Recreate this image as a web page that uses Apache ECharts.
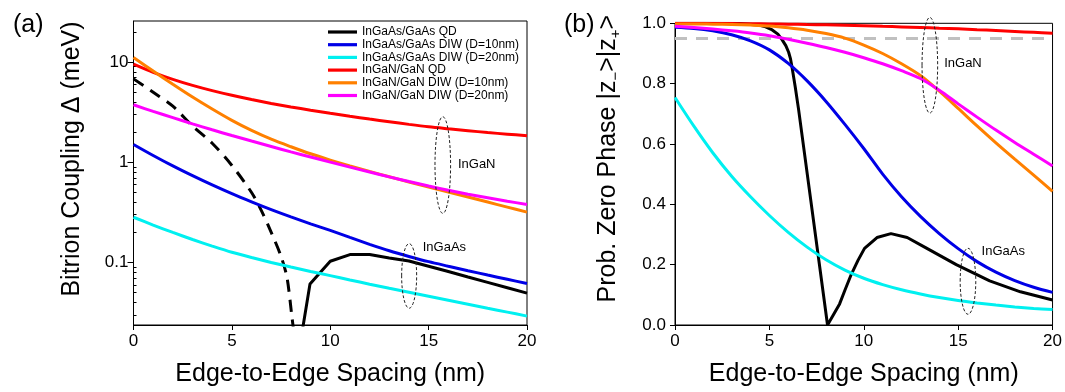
<!DOCTYPE html>
<html><head><meta charset="utf-8">
<script src="https://cdn.jsdelivr.net/npm/echarts@6/dist/echarts.min.js"></script>
<style>html,body{margin:0;padding:0;background:#fff}#c{width:1065px;height:392px}</style>
</head><body><div id="c"></div>
<script>
const FONT = '"Liberation Sans", Arial, sans-serif';
// ---------- data ----------
const nm = [0,1,2,3,4,5,6,7,8,9,10,11,12,13,14,15,16,17,18,19,20];
const xTicks = [0,5,10,15,20];
const leftYLabels = [0.1,1,10];
const leftYMinor = [0.03,0.04,0.05,0.06,0.07,0.08,0.09,0.2,0.3,0.4,0.5,0.6,0.7,0.8,0.9,2,3,4,5,6,7,8,9,20];
const names = ['InGaAs/GaAs QD','InGaAs/GaAs DIW (D=10nm)','InGaAs/GaAs DIW (D=20nm)','InGaN/GaN QD','InGaN/GaN DIW (D=10nm)','InGaN/GaN DIW (D=20nm)'];
const colors = ['#000000','#0000e6','#00f0f0','#ff0000','#ff8000','#ff00ff'];

// (a) bitrion coupling (meV)
const aQdInGaAsNm   = [8.6,8.97,10,11,12,13,14,15,16,17,18,19,20];
const aQdInGaAs     = [0.022,0.061,0.103,0.12,0.12,0.111,0.1035,0.0918,0.0813,0.0716,0.0634,0.056,0.0495];
const aQdInGaAsNegNm= [0,1,2,3,4,5,6,6.5,7,7.5,7.8,8.05,8.15];
const aQdInGaAsNeg  = [6.8,5.0,3.63,2.3,1.55,0.93,0.5,0.33,0.2,0.115,0.071,0.029,0.02];
const aDiw10InGaAs  = [1.507,1.17,0.92,0.735,0.594,0.486,0.403,0.337,0.285,0.243,0.209,0.178,0.152,0.131,0.115,0.102,0.0918,0.0828,0.075,0.068,0.0617];
const aDiw20InGaAs  = [0.283,0.2366,0.1995,0.1698,0.1459,0.1265,0.1122,0.1002,0.0902,0.0815,0.074,0.067,0.0608,0.0553,0.0505,0.0461,0.0421,0.0384,0.035,0.032,0.0292];
const aQdInGaN      = [9.55,7.91,6.73,5.86,5.19,4.66,4.23,3.87,3.57,3.31,3.08,2.88,2.70,2.54,2.39,2.26,2.16,2.07,1.98,1.91,1.84];
const aDiw10InGaN   = [11.12,8.15,6.01,4.48,3.40,2.62,2.08,1.70,1.43,1.216,1.052,0.92,0.811,0.718,0.637,0.566,0.505,0.45,0.401,0.357,0.318];
const aDiw20InGaN   = [3.75,3.22,2.79,2.42,2.11,1.85,1.63,1.44,1.27,1.13,1.005,0.895,0.8,0.716,0.643,0.579,0.526,0.481,0.443,0.409,0.38];

// (b) probability of zero phase
const bQdInGaAsNm   = [0,2,3.4,4.45,4.8,5.15,5.45,5.67,5.87,6.02,6.12,6.2,6.37,6.55,8.08,8.4,8.72,9.0,9.34,9.7,10.04,10.7,11.44,12.3,13.2,14.9,16.67,18.3,20];
const bQdInGaAs     = [1.0,1.0,0.999,0.994,0.988,0.978,0.964,0.946,0.926,0.904,0.882,0.854,0.789,0.713,0,0.035,0.07,0.115,0.168,0.215,0.254,0.29,0.303,0.29,0.259,0.2,0.146,0.11,0.083];
const bDiw10InGaAs  = [0.987,0.983,0.975,0.962,0.942,0.912,0.867,0.809,0.741,0.665,0.585,0.5,0.425,0.36,0.303,0.253,0.21,0.175,0.147,0.125,0.108];
const bDiw20InGaAs  = [0.754,0.659,0.571,0.493,0.425,0.363,0.307,0.258,0.216,0.182,0.155,0.134,0.117,0.103,0.091,0.081,0.073,0.066,0.06,0.055,0.051];
const bQdInGaN      = [1,1,0.9995,0.999,0.9985,0.998,0.997,0.996,0.995,0.9935,0.992,0.990,0.988,0.986,0.984,0.982,0.979,0.976,0.973,0.970,0.967];
const bDiw10InGaN   = [0.998,0.998,0.997,0.996,0.994,0.991,0.985,0.977,0.966,0.951,0.928,0.9,0.866,0.827,0.775,0.718,0.66,0.604,0.55,0.497,0.443];
const bDiw20InGaN   = [0.99,0.986,0.981,0.975,0.968,0.959,0.947,0.934,0.92,0.904,0.886,0.866,0.843,0.817,0.778,0.733,0.689,0.646,0.605,0.566,0.527];
const bRefNm = [0,20];
const bRef = [0.95,0.95];

// ---------- build ----------
const pair = (xs, ys) => xs.map((x,i)=>[x, ys[i]]);
function line(name, color, xs, ys, xi, yi, extra){
  return Object.assign({
    type:'line', name, xAxisIndex:xi, yAxisIndex:yi, data: pair(xs, ys),
    symbol:'none', smooth:0.3, animation:false,
    lineStyle:{color, width:3}, itemStyle:{color}, z:3
  }, extra||{});
}
const tickLabel = {fontSize:17, color:'#000', fontFamily:FONT};
const axisCommon = {
  axisLine:{show:true, onZero:false, lineStyle:{color:'#000', width:1}},
  axisTick:{show:true, inside:false, length:5, lineStyle:{color:'#000'}},
  axisLabel:Object.assign({margin:8}, tickLabel),
  splitLine:{show:false}
};
const xTitle = {name:'Edge-to-Edge Spacing (nm)', nameLocation:'middle', nameGap:37,
  nameTextStyle:{fontSize:25, color:'#000', fontFamily:FONT}};

const option = {
  animation:false,
  backgroundColor:'#fff',
  title:[
    {text:'(a)', left:8, top:8, textStyle:{fontSize:25, fontWeight:'normal', color:'#000', fontFamily:FONT}},
    {text:'(b)', left:559, top:8, textStyle:{fontSize:25, fontWeight:'normal', color:'#000', fontFamily:FONT}}
  ],
  legend:{
    orient:'vertical', left:328, top:26, padding:0, itemGap:0.7, itemWidth:29, itemHeight:14,
    icon:'path://M0,0L100,0L100,11L0,11Z',
    data:names, selectedMode:false,
    textStyle:{fontSize:12, color:'#000', fontFamily:FONT}
  },
  grid:[
    {left:133.5, top:21, width:393.5, height:311, show:true, borderColor:'#000', borderWidth:1, containLabel:false},
    {left:675, top:23.3, width:382, height:308.4, show:true, borderColor:'#000', borderWidth:1, containLabel:false}
  ],
  xAxis:[
    Object.assign({gridIndex:0, type:'value', min:0, max:20, interval:5}, axisCommon, xTitle),
    Object.assign({gridIndex:1, type:'value', min:0, max:20, interval:5}, axisCommon, xTitle)
  ],
  yAxis:[
    Object.assign({}, axisCommon, {gridIndex:0, type:'log', logBase:10, min:0.0238, max:25.7,
      axisTick:{show:true, length:6, lineStyle:{color:'#000'}, customValues:leftYLabels},
      axisLabel:Object.assign({margin:5, customValues:leftYLabels,
        formatter:v => (v < 1 ? String(+v.toFixed(3)) : String(Math.round(v)))}, tickLabel),
      name:'Bitrion Coupling \u0394 (meV)', nameLocation:'middle', nameGap:49,
      nameTextStyle:{fontSize:25, color:'#000', fontFamily:FONT, padding:[0,0,0,28]}}),
    {gridIndex:0, type:'log', logBase:10, min:0.0238, max:25.7,
      axisLine:{show:false}, axisLabel:{show:false}, splitLine:{show:false},
      axisTick:{show:true, length:3, lineStyle:{color:'#000'}, customValues:leftYMinor}},
    Object.assign({}, axisCommon, {gridIndex:1, type:'value', min:0, max:1, interval:0.2,
      axisLabel:Object.assign({margin:9, formatter:v => v.toFixed(1)}, tickLabel),
      name:'{a|Prob. Zero Phase |z}{s|\u2212}{a|>|z}{s|+}{a|>}', nameLocation:'middle', nameGap:52,
      nameTextStyle:{color:'#000', fontFamily:FONT, padding:[0,0,0,31],
        rich:{a:{fontSize:25, lineHeight:30, fontFamily:FONT, color:'#000'},
              s:{fontSize:15, lineHeight:30, verticalAlign:'bottom', fontFamily:FONT, color:'#000'}}}})
  ],
  series:[
    line(names[0], colors[0], aQdInGaAsNm, aQdInGaAs, 0, 0, {smooth:false}),
    line(names[0], colors[0], aQdInGaAsNegNm, aQdInGaAsNeg, 0, 0, {lineStyle:{color:colors[0], width:3, type:[12,8]}}),
    line(names[1], colors[1], nm, aDiw10InGaAs, 0, 0),
    line(names[2], colors[2], nm, aDiw20InGaAs, 0, 0),
    line(names[3], colors[3], nm, aQdInGaN, 0, 0),
    line(names[4], colors[4], nm, aDiw10InGaN, 0, 0),
    line(names[5], colors[5], nm, aDiw20InGaN, 0, 0),
    line('ref', '#c0c0c0', bRefNm, bRef, 1, 2, {smooth:false, z:2, lineStyle:{color:'#c0c0c0', width:3, type:[12,9]}}),
    line(names[0], colors[0], bQdInGaAsNm, bQdInGaAs, 1, 2, {smooth:false}),
    line(names[1], colors[1], nm, bDiw10InGaAs, 1, 2),
    line(names[2], colors[2], nm, bDiw20InGaAs, 1, 2),
    line(names[3], colors[3], nm, bQdInGaN, 1, 2),
    line(names[4], colors[4], nm, bDiw10InGaN, 1, 2),
    line(names[5], colors[5], nm, bDiw20InGaN, 1, 2)
  ]
};
const chart = echarts.init(document.getElementById('c'));
chart.setOption(option);

// annotations (dashed ellipses + group labels) anchored at data coordinates
const annEllipses = [ // [grid, nm, value, rx, ry]
  [0, 15.72, 0.939, 7.8, 48.3],
  [0, 14.01, 0.0735, 7.5, 32.3],
  [1, 13.5, 0.861, 7.8, 47.8],
  [1, 15.52, 0.145, 7.8, 33]
];
const annLabels = [ // [grid, nm, value, text]
  [0, 16.49, 0.956, 'InGaN'],
  [0, 14.7, 0.143, 'InGaAs'],
  [1, 14.26, 0.866, 'InGaN'],
  [1, 16.24, 0.243, 'InGaAs']
];
const toPx = (g, x, y) => chart.convertToPixel(g === 0 ? {xAxisIndex:0, yAxisIndex:0} : {xAxisIndex:1, yAxisIndex:2}, [x, y]);
const graphics = [];
annEllipses.forEach(e => {
  const p = toPx(e[0], e[1], e[2]);
  graphics.push({type:'ellipse', shape:{cx:p[0], cy:p[1], rx:e[3], ry:e[4]},
    style:{fill:null, stroke:'#222', lineWidth:1, lineDash:[3,2]}, z:10});
});
annLabels.forEach(l => {
  const p = toPx(l[0], l[1], l[2]);
  graphics.push({type:'text', x:p[0], y:p[1], style:{text:l[3], fontSize:13, fill:'#000', fontFamily:FONT,
    align:'left', verticalAlign:'middle'}, z:10});
});
chart.setOption({graphic:graphics});
</script></body></html>
